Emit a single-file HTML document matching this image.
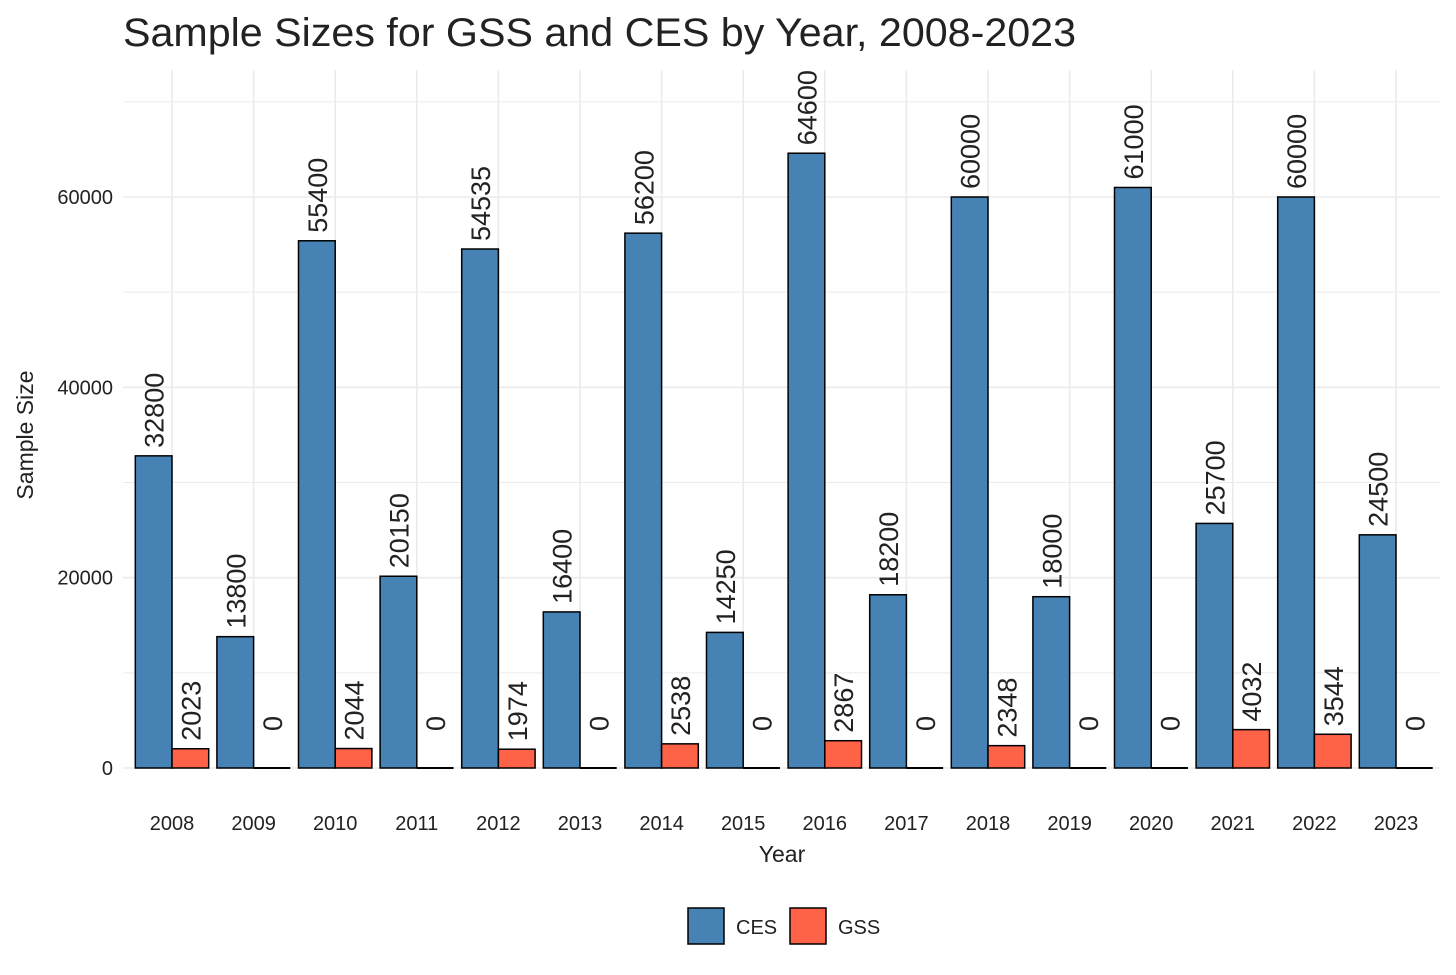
<!DOCTYPE html>
<html><head><meta charset="utf-8"><style>
body{margin:0;background:#fff}
svg text{font-family:"Liberation Sans Narrow","Liberation Sans",sans-serif;fill:#222}
</style></head><body>
<svg id="c" width="1456" height="970" xmlns="http://www.w3.org/2000/svg">
<text x="123" y="46" font-size="40" textLength="953" lengthAdjust="spacingAndGlyphs">Sample Sizes for GSS and CES by Year, 2008-2023</text>
<g id="grid"></g><g id="bars"></g><g id="labels"></g><g id="axes"></g>
<text x="782" y="862" font-size="23" text-anchor="middle">Year</text>
<text transform="translate(33,435) rotate(-90)" font-size="23" text-anchor="middle">Sample Size</text>
<g>
<rect x="688" y="908" width="36" height="36" fill="#4682b4" stroke="#000" stroke-width="1.5"/>
<text x="736" y="934" font-size="20">CES</text>
<rect x="790" y="908" width="36" height="36" fill="#ff6347" stroke="#000" stroke-width="1.5"/>
<text x="838" y="934" font-size="20">GSS</text>
</g>
</svg>
<script>
const years=[2008,2009,2010,2011,2012,2013,2014,2015,2016,2017,2018,2019,2020,2021,2022,2023];
const ces=[32800,13800,55400,20150,54535,16400,56200,14250,64600,18200,60000,18000,61000,25700,60000,24500];
const gss=[2023,0,2044,0,1974,0,2538,0,2867,0,2348,0,0,4032,3544,0];
const yTicks=[0,20000,40000,60000];
const NS="http://www.w3.org/2000/svg";
const y=v=>768-v*(571/60000);
const step=81.6;
const x=i=>172+i*step;
const bw=36.7;
function mk(t,a,p){const e=document.createElementNS(NS,t);for(const k in a)e.setAttribute(k,a[k]);document.getElementById(p).appendChild(e);return e;}
for(let v=0;v<=70000;v+=10000){
 const l=mk('line',{x1:123,x2:1440,y1:y(v),y2:y(v),stroke:'#ebebeb','stroke-width':v%20000?1:1.6},'grid');
 
 
}
years.forEach((yr,i)=>{
 const l=mk('line',{x1:x(i),x2:x(i),y1:70,y2:768,stroke:'#ebebeb','stroke-width':1.6},'grid');
 
 
 const t=mk('text',{x:x(i),y:830,'font-size':20,'text-anchor':'middle',fill:'#444'},'axes');
 t.textContent=yr;
 
 
 [[ces[i],x(i)-bw,'#4682b4','ces'],[gss[i],x(i),'#ff6347','gss']].forEach(([v,x0,col,s])=>{
  if(v>0){
   const r=mk('rect',{x:x0,y:y(v),width:bw,height:768-y(v),fill:col,stroke:'#000','stroke-width':1.5},'bars');
   
   
  } else {
   const r=mk('line',{x1:x0,x2:x0+bw,y1:768,y2:768,stroke:'#000','stroke-width':2},'bars');
   
   
  }
  const cx=x0+bw/2+10, ty=y(v)-(v>0?8:37);
  const lb=mk('text',{transform:`translate(${cx},${ty}) rotate(-90)`,'font-size':27},'labels');
  lb.textContent=v;
  
  
 });
});
yTicks.forEach(v=>{
 const t=mk('text',{x:113,y:y(v)+7,'font-size':20,'text-anchor':'end',fill:'#444'},'axes');
 t.textContent=v;
 
 
});
</script>
</body></html>
